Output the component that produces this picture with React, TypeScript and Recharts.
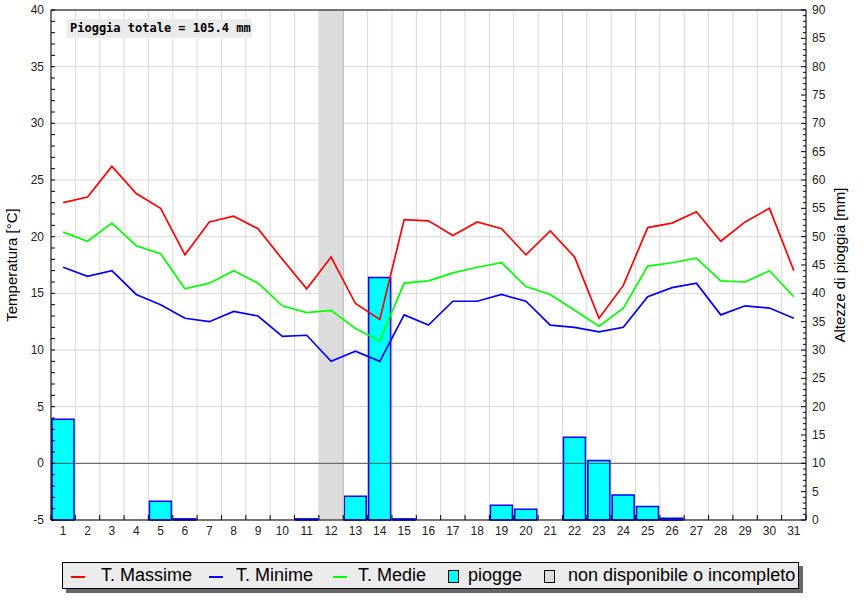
import { ComposedChart, Line, Bar, XAxis, YAxis, CartesianGrid, ReferenceArea, ReferenceLine } from 'recharts';

const days = [1, 2, 3, 4, 5, 6, 7, 8, 9, 10, 11, 12, 13, 14, 15, 16, 17, 18, 19, 20, 21, 22, 23, 24, 25, 26, 27, 28, 29, 30, 31];
const tMax = [23.0, 23.5, 26.2, 23.8, 22.5, 18.4, 21.3, 21.8, 20.7, 18.0, 15.4, 18.2, 14.1, 12.7, 21.5, 21.4, 20.1, 21.3, 20.7, 18.4, 20.5, 18.2, 12.8, 15.7, 20.8, 21.2, 22.2, 19.6, 21.3, 22.5, 17.0];
const tMin = [17.3, 16.5, 17.0, 14.9, 14.0, 12.8, 12.5, 13.4, 13.0, 11.2, 11.3, 9.0, 9.9, 9.0, 13.1, 12.2, 14.3, 14.3, 14.9, 14.3, 12.2, 12.0, 11.6, 12.0, 14.7, 15.5, 15.9, 13.1, 13.9, 13.7, 12.8];
const tMed = [20.4, 19.6, 21.2, 19.2, 18.5, 15.4, 15.9, 17.0, 15.9, 13.9, 13.3, 13.5, 11.9, 10.8, 15.9, 16.1, 16.8, 17.3, 17.7, 15.6, 14.9, 13.5, 12.1, 13.7, 17.4, 17.7, 18.1, 16.1, 16.0, 17.0, 14.7];
const rain = [17.8, 0, 0, 0, 3.3, 0.2, 0, 0, 0, 0, 0.2, 0, 4.2, 42.8, 0.2, 0, 0, 0, 2.6, 1.9, 0, 14.6, 10.5, 4.4, 2.4, 0.3, 0, 0, 0, 0, 0];
const missingDay = 12;
const totalRain = '105.4';

const tempMajor = [-5, 0, 5, 10, 15, 20, 25, 30, 35, 40];
const tempTicks = Array.from({ length: 46 }, (_, i) => i - 5);
const rainTicks = Array.from({ length: 91 }, (_, i) => i);
const dayTicks = [0.5, ...days.flatMap((d) => [d, d + 0.5])];

const data = days.map((d, i) => ({ day: d, max: tMax[i], min: tMin[i], med: tMed[i], rain: rain[i] }));

const FONT = '"Liberation Sans", Arial, sans-serif';

const LeftTick = ({ x, y, payload }: any) => {
  const v = payload.value;
  const major = v % 5 === 0;
  const ax = x + 7;
  return (
    <g>
      <line x1={ax} x2={ax + 4} y1={y} y2={y} stroke="#000" />
      {major && (
        <text x={x} y={y} dy={4} textAnchor="end" fontSize={12} fill="#222" fontFamily={FONT}>
          {v}
        </text>
      )}
    </g>
  );
};

const RightTick = ({ x, y, payload }: any) => {
  const v = payload.value;
  const major = v % 5 === 0;
  const ax = x - 6;
  return (
    <g>
      <line x1={ax} x2={ax - (major ? 5 : 3)} y1={y} y2={y} stroke="#000" />
      {major && (
        <text x={x} y={y} dy={4} textAnchor="start" fontSize={12} fill="#222" fontFamily={FONT}>
          {v}
        </text>
      )}
    </g>
  );
};

const DayTick = ({ x, y, payload }: any) => {
  const v = payload.value;
  if (Number.isInteger(v)) {
    return (
      <text x={x} y={y + 15} textAnchor="middle" fontSize={12} fill="#222" fontFamily={FONT}>
        {v}
      </text>
    );
  }
  return <line x1={x} x2={x} y1={y} y2={y - 5} stroke="#000" />;
};

const legendItems = [
  { kind: 'line', color: '#ff0000', label: 'T. Massime', mx: 8, tx: 38 },
  { kind: 'line', color: '#0000ff', label: 'T. Minime', mx: 146, tx: 173 },
  { kind: 'line', color: '#00ff00', label: 'T. Medie', mx: 270, tx: 295 },
  { kind: 'box', color: '#00ffff', label: 'piogge', mx: 385, tx: 405 },
  { kind: 'box', color: '#dcdcdc', label: 'non disponibile o incompleto', mx: 481, tx: 505 },
];

export default function App() {
  return (
    <div style={{ position: 'absolute', left: 0, top: 0, width: 865, height: 600, background: '#fff', fontFamily: FONT }}>
      <ComposedChart width={865} height={600} data={data} margin={{ top: 10, right: 0, left: 0, bottom: 50 }} barCategoryGap={1}>
        <CartesianGrid
          stroke="#d8d8d8"
          yAxisId="left"
          horizontalValues={tempMajor}
          verticalValues={dayTicks.filter((t) => !Number.isInteger(t))}
        />
        <XAxis
          type="number"
          dataKey="day"
          domain={[0.5, 31.5]}
          ticks={dayTicks}
          interval={0}
          height={30}
          tickSize={0}
          tickMargin={0}
          tickLine={false}
          tick={<DayTick />}
          axisLine={{ stroke: '#000' }}
          allowDataOverflow
        />
        <YAxis
          yAxisId="left"
          domain={[-5, 40]}
          ticks={tempTicks}
          interval={0}
          width={51}
          tickSize={0}
          tickMargin={7}
          tickLine={false}
          tick={<LeftTick />}
          axisLine={{ stroke: '#000' }}
          label={{ value: 'Temperatura [°C]', angle: -90, position: 'insideLeft', offset: 12, style: { textAnchor: 'middle', fontSize: 15, fill: '#000', fontFamily: FONT } }}
        />
        <YAxis
          yAxisId="right"
          orientation="right"
          domain={[0, 90]}
          ticks={rainTicks}
          interval={0}
          width={59}
          tickSize={0}
          tickMargin={6}
          tickLine={false}
          tick={<RightTick />}
          axisLine={{ stroke: '#000' }}
          label={{ value: 'Altezze di pioggia [mm]', angle: -90, position: 'insideRight', offset: 25, style: { textAnchor: 'middle', fontSize: 15, fill: '#000', fontFamily: FONT } }}
        />
        <ReferenceArea yAxisId="left" x1={missingDay - 0.5} x2={missingDay + 0.5} y1={-5} y2={40} fill="#dcdcdc" fillOpacity={1} stroke="none" />
        <ReferenceLine yAxisId="left" x={missingDay + 0.5} stroke="#c4c4c4" strokeWidth={1.5} />
        <ReferenceLine yAxisId="left" y={0} stroke="#555" />
        <ReferenceLine yAxisId="left" y={40} stroke="#000" />
        <Bar yAxisId="right" dataKey="rain" fill="#00ffff" stroke="#0000ff" strokeWidth={1.5} isAnimationActive={false} />
        <Line yAxisId="left" dataKey="max" stroke="#ff0000" strokeWidth={1.7} dot={false} type="linear" isAnimationActive={false} />
        <Line yAxisId="left" dataKey="min" stroke="#0000ff" strokeWidth={1.7} dot={false} type="linear" isAnimationActive={false} />
        <Line yAxisId="left" dataKey="med" stroke="#00ff00" strokeWidth={1.7} dot={false} type="linear" isAnimationActive={false} />
      </ComposedChart>

      <div
        style={{
          position: 'absolute',
          left: 67,
          top: 19,
          width: 182,
          height: 19,
          paddingLeft: 3,
          background: '#ebebeb',
          fontFamily: '"DejaVu Sans Mono", monospace',
          fontWeight: 'bold',
          fontSize: 12,
          lineHeight: '19px',
          color: '#000',
          whiteSpace: 'nowrap',
        }}
      >
        Pioggia totale = {totalRain} mm
      </div>

      <div
        style={{
          position: 'absolute',
          left: 62,
          top: 562,
          width: 735,
          height: 25,
          background: '#ebebeb',
          border: '1px solid #000',
          boxShadow: '4px 4px 0 #666',
          fontSize: 18,
          color: '#000',
        }}
      >
        {legendItems.map((it) =>
          it.kind === 'line' ? (
            <div key={it.label}>
              <div style={{ position: 'absolute', left: it.mx, top: 13, width: 14, height: 2, background: it.color }} />
              <div style={{ position: 'absolute', left: it.tx, top: 2, lineHeight: '20px', whiteSpace: 'nowrap' }}>{it.label}</div>
            </div>
          ) : (
            <div key={it.label}>
              <div style={{ position: 'absolute', left: it.mx, top: 7, width: 9, height: 11, background: it.color, border: '1px solid #000' }} />
              <div style={{ position: 'absolute', left: it.tx, top: 2, lineHeight: '20px', whiteSpace: 'nowrap' }}>{it.label}</div>
            </div>
          )
        )}
      </div>
    </div>
  );
}
